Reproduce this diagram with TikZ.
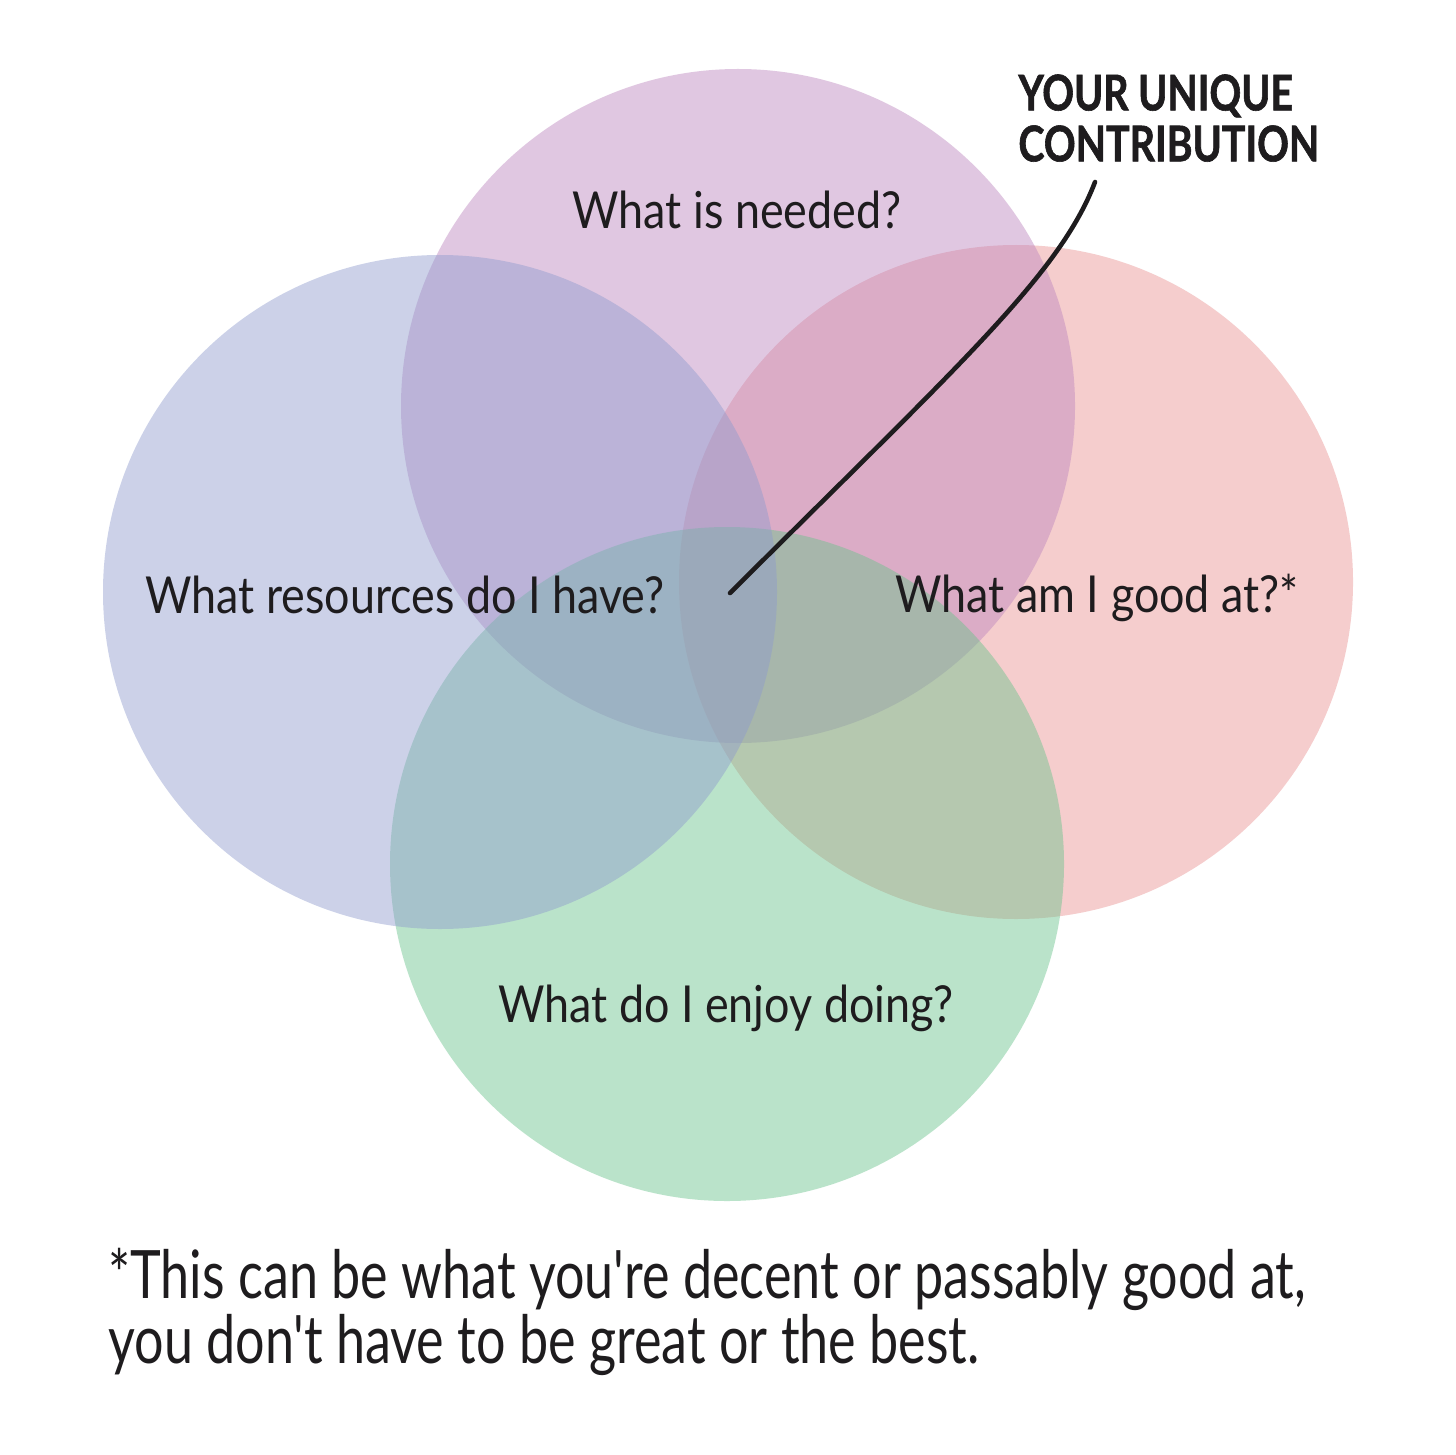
\documentclass[tikz,border=0pt]{standalone}
\usepackage{fontspec}
\setmainfont{Lato}
\newfontfamily\handfont[FakeStretch=0.88]{Lato}
\newfontfamily\notefont[FakeStretch=0.78]{Lato}
\newfontfamily\headfont[FakeStretch=0.8,FakeBold=1.2]{Lato}
\definecolor{vnblue}{RGB}{142,155,206}
\definecolor{vnpurple}{RGB}{188,133,190}
\definecolor{vnred}{RGB}{233,146,146}
\definecolor{vngreen}{RGB}{104,195,139}
\definecolor{vnink}{RGB}{30,28,30}
\usetikzlibrary{positioning,calc}

\begin{document}
\begin{tikzpicture}[
  every node/.style={text=vnink},
  venn/.style={fill opacity=0.45,draw=none},
  qlabel/.style={font=\handfont\fontsize{14.5}{17}\selectfont,anchor=base},
  headlabel/.style={font=\headfont\fontsize{14}{14.5}\selectfont\bfseries,align=left,anchor=north west},
  leader/.style={draw=vnink,line width=1.3pt,line cap=round},
]
  \useasboundingbox[fill=white] (0,0) rectangle (14.56,14.54);

  % Circles
  \fill[venn,vnred]    (10.16,8.72) circle (3.37);
  \fill[venn,vnpurple] (7.38,10.48) circle (3.37);
  \fill[venn,vngreen]  (7.27,5.90)  circle (3.37);
  \fill[venn,vnblue]   (4.40,8.62)  circle (3.37);

  % Questions
  \node[qlabel] (needed)    at (7.37,12.25) {What is needed?};
  \node[qlabel] (resources) at (4.05,8.41)  {What resources do I have?};
  \node[qlabel] (goodat)    at (10.97,8.42) {What am I good at?*};
  \node[qlabel] (enjoy)     at (7.26,4.32)  {What do I enjoy doing?};

  % Unique contribution
  \node[headlabel] (contrib) at (10.06,13.92) {YOUR UNIQUE\\CONTRIBUTION};
  \coordinate (core) at (7.30,8.61);
  \coordinate (tip)  at (10.95,12.72);
  \draw[leader] (core) .. controls (9.6,10.9) and (10.6,11.8) .. (tip);

  % Footnote
  \node[font=\notefont\fontsize{19}{18.4}\selectfont,align=left,anchor=base west] (note) at (0.96,0.91)
    {*This can be what you're decent or passably good at,\\you don't have to be great or the best.};
\end{tikzpicture}
\end{document}
